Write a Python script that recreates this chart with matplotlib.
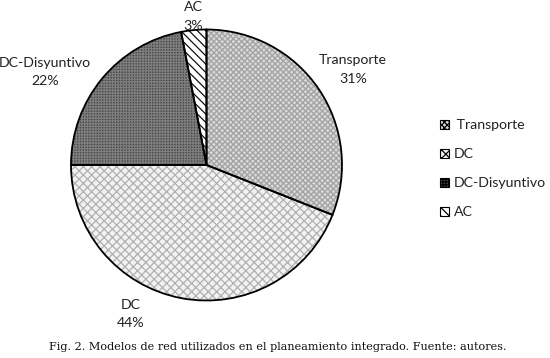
import matplotlib
matplotlib.use("Agg")
import matplotlib.pyplot as plt
from matplotlib.patches import Patch

categories = ["Transporte", "DC", "DC-Disyuntivo", "AC"]
values = [31, 44, 22, 3]
pct_labels = ["31%", "44%", "22%", "3%"]

face_colors = ["#d8d8d8", "#f2f2f2", "#484848", "#ffffff"]
hatch_colors = ["#a2a2a2", "#b0b0b0", "#7e7e7e", "#111111"]
hatches = ["xxxxxx", "xxxx", "++++++", "\\\\\\\\"]

plt.rcParams["hatch.linewidth"] = 0.9
W, H = 550, 358
fig = plt.figure(figsize=(W / 100, H / 100), dpi=100)
fig.patch.set_facecolor("white")

cx, cy, r = 206.5, 165.0, 135.5
ax = fig.add_axes([(cx - r) / W, (H - cy - r) / H, 2 * r / W, 2 * r / H])

wedges, _ = ax.pie(values, startangle=90, counterclock=False, colors=face_colors,
                   wedgeprops=dict(linewidth=0))
for w, hc, h in zip(wedges, hatch_colors, hatches):
    w.set_hatch(h)
    w.set_edgecolor(hc)
    w.set_linewidth(0)

ax.pie(values, startangle=90, counterclock=False,
       wedgeprops=dict(fill=False, edgecolor="black", linewidth=1.3))
ax.set_xlim(-1, 1)
ax.set_ylim(-1, 1)
ax.set_aspect("auto")
ax.axis("off")

font = "Lato"
fs = 10.2
# label positions in pixel units of the figure (layout only)
label_pos = {"Transporte": (353, 60, 79), "DC": (131, 305, 323),
             "DC-Disyuntivo": (45, 63, 81), "AC": (193, 7, 26)}
for cat, pct in zip(categories, pct_labels):
    x, y1, y2 = label_pos[cat]
    fig.text(x / W, 1 - y1 / H, cat, ha="center", va="center", fontsize=fs,
             family=font, color="#222222")
    fig.text(x / W, 1 - y2 / H, pct, ha="center", va="center", fontsize=fs,
             family=font, color="#222222")

handles = [Patch(facecolor=fc, edgecolor="black", hatch=h, linewidth=0.8)
           for fc, h in zip(face_colors, hatches)]
leg = fig.legend(handles, [" Transporte", "DC", "DC-Disyuntivo", "AC"],
                 loc="upper left", bbox_to_anchor=(440 / W, 1 - 119 / H),
                 frameon=False, prop=dict(family=font, size=fs),
                 handlelength=0.6, handleheight=0.6, handletextpad=0.35,
                 labelspacing=1.2, borderpad=0, borderaxespad=0)
for t in leg.get_texts():
    t.set_color("#222222")

fig.text(278 / W, 1 - 347 / H,
         "Fig. 2. Modelos de red utilizados en el planeamiento integrado. Fuente: autores.",
         ha="center", va="center", fontsize=8.1, family="DejaVu Serif", color="#111111")

fig.savefig("out.png", dpi=100, facecolor="white")
